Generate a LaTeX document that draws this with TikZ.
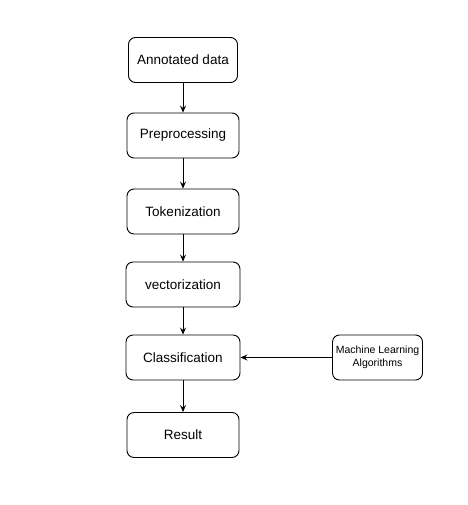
\documentclass[tikz,border=0pt]{standalone}
\usepackage{fontspec}
\setmainfont{Liberation Sans}
\usetikzlibrary{arrows.meta}
\begin{document}
\begin{tikzpicture}[x=1pt,y=-1pt,
  stepbox/.style={draw=black,line width=0.9pt,rounded corners=7pt,fill=white,inner sep=0pt,font=\fontsize{13.5}{15}\selectfont},
  smallbox/.style={draw=black,line width=0.9pt,rounded corners=7pt,fill=white,inner sep=0pt,align=center,font=\fontsize{10.5}{12.5}\selectfont},
  conn/.style={draw=black,line width=0.8pt,-{Stealth[length=7pt,width=6pt,inset=2.5pt]}}]
\useasboundingbox (0,0) rectangle (467,505);
\node[stepbox,minimum width=109pt,minimum height=45pt] (a) at (183,60) {Annotated data};
\node[stepbox,minimum width=112pt,minimum height=45pt] (p) at (183,135.5) {Preprocessing};
\node[stepbox,minimum width=112pt,minimum height=45pt] (t) at (183,211.5) {Tokenization};
\node[stepbox,minimum width=114pt,minimum height=45pt] (v) at (183,284.5) {vectorization};
\node[stepbox,minimum width=114pt,minimum height=45pt] (c) at (183,357.5) {Classification};
\node[stepbox,minimum width=112pt,minimum height=45pt] (r) at (183,435) {Result};
\node[smallbox,minimum width=90pt,minimum height=45pt] (m) at (377.5,357.5) {Machine Learning\\Algorithms};
\draw[conn] (a) -- (p);
\draw[conn] (p) -- (t);
\draw[conn] (t) -- (v);
\draw[conn] (v) -- (c);
\draw[conn] (c) -- (r);
\draw[conn] (m) -- (c);
\end{tikzpicture}
\end{document}
